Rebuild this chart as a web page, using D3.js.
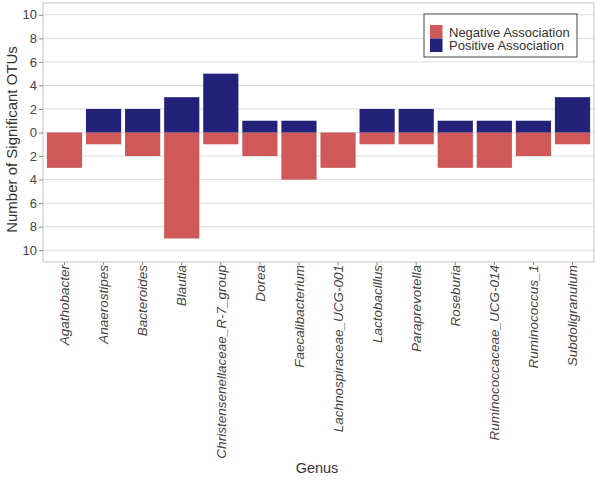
<!DOCTYPE html>
<html><head><meta charset="utf-8">
<script src="https://cdn.jsdelivr.net/npm/d3@7"></script>
<style>body{margin:0;background:#fff;}svg{display:block;font-family:"Liberation Sans",Arial,sans-serif;}</style>
</head><body>
<svg id="c" width="597" height="480"></svg>
<script>
const genera = ["Agathobacter","Anaerostipes","Bacteroides","Blautia","Christensenellaceae_R-7_group","Dorea","Faecalibacterium","Lachnospiraceae_UCG-001","Lactobacillus","Paraprevotella","Roseburia","Ruminococcaceae_UCG-014","Ruminococcus_1","Subdoligranulum"];
const negative = [3,1,2,9,1,2,4,3,1,1,3,3,2,1];
const positive = [0,2,2,3,5,1,1,0,2,2,1,1,1,3];
const yTicks = [-10,-8,-6,-4,-2,0,2,4,6,8,10];
const seriesNames = ["Negative Association","Positive Association"];
const colors = ["#d05858","#22227a"];

const svg = d3.select("#c");
const L=43,R=594,T=3,B=262;
const x = d3.scaleBand().domain(genera).range([L,R]).paddingInner(0.1).paddingOuter(0.1);
const y = d3.scaleLinear().domain([-11,11]).range([B,T]);

// grid
svg.append("g").selectAll("line").data(yTicks).join("line")
  .attr("x1",L).attr("x2",R).attr("y1",d=>y(d)).attr("y2",d=>y(d))
  .attr("stroke","#dcdcdc").attr("stroke-width",1);

// bars
svg.append("g").selectAll("rect").data(genera).join("rect")
  .attr("x",d=>x(d)).attr("width",x.bandwidth())
  .attr("y",y(0)).attr("height",(d,i)=>y(-negative[i])-y(0))
  .attr("fill",colors[0]);
svg.append("g").selectAll("rect").data(genera).join("rect")
  .attr("x",d=>x(d)).attr("width",x.bandwidth())
  .attr("y",(d,i)=>y(positive[i])).attr("height",(d,i)=>y(0)-y(positive[i]))
  .attr("fill",colors[1]);

// border
svg.append("rect").attr("x",L).attr("y",T).attr("width",R-L).attr("height",B-T)
  .attr("fill","none").attr("stroke","#cfcfcf").attr("stroke-width",1.2);

// y axis
const ya = svg.append("g").attr("transform",`translate(${L},0)`)
  .call(d3.axisLeft(y).tickValues(yTicks).tickFormat(d=>Math.abs(d)).tickSize(4).tickPadding(2));
ya.select(".domain").remove();
ya.selectAll("line").attr("stroke","#888");
ya.selectAll("text").attr("font-size",13).attr("fill","#444").attr("font-family","Liberation Sans, Arial, sans-serif");

// x axis
const xa = svg.append("g").attr("transform",`translate(0,${B})`)
  .call(d3.axisBottom(x).tickSize(3).tickPadding(3));
xa.select(".domain").remove();
xa.selectAll("line").attr("stroke","#888");
xa.selectAll("text").attr("font-size",13.5).attr("fill","#444").attr("font-style","italic")
  .attr("font-family","Liberation Sans, Arial, sans-serif")
  .attr("text-anchor","end").attr("dy","0.35em")
  .attr("transform","translate(0,3) rotate(-90)").attr("x",0).attr("y",0);

// axis titles
svg.append("text").attr("x",317).attr("y",473).attr("text-anchor","middle")
  .attr("font-size",14.5).attr("fill","#333").text("Genus");
svg.append("text").attr("transform",`translate(17,139.5) rotate(-90)`).attr("text-anchor","middle")
  .attr("font-size",15).attr("fill","#333").text("Number of Significant OTUs");

// legend
const lg = svg.append("g");
lg.append("rect").attr("x",424).attr("y",14).attr("width",153).attr("height",43)
  .attr("fill","#fff").attr("stroke","#444").attr("stroke-width",1);
seriesNames.forEach((s,i)=>{
  lg.append("rect").attr("x",430).attr("y",25+i*13.5).attr("width",12.5).attr("height",13.5).attr("fill",colors[i]);
  lg.append("text").attr("x",449).attr("y",36.7+i*13.5)
    .attr("font-size",13).attr("fill","#333").text(s);
});
</script>
</body></html>
